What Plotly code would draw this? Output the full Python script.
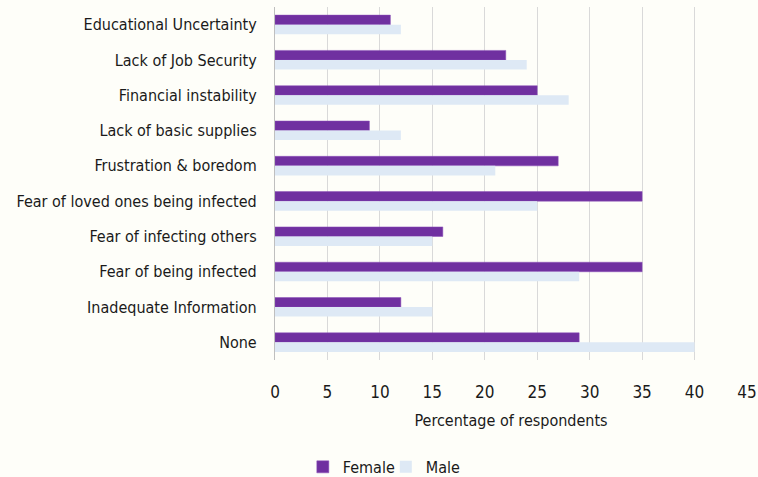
import plotly.graph_objects as go

categories = ["Educational Uncertainty", "Lack of Job Security", "Financial instability",
              "Lack of basic supplies", "Frustration & boredom", "Fear of loved ones being infected",
              "Fear of infecting others", "Fear of being infected", "Inadequate Information", "None"]
female = [11, 22, 25, 9, 27, 35, 16, 35, 12, 29]
male = [12, 24, 28, 12, 21, 25, 15, 29, 15, 40]
x_ticks = [0, 5, 10, 15, 20, 25, 30, 35, 40, 45]

FONT = "DejaVu Sans Condensed, Liberation Sans Narrow, sans-serif"
BG = "#FEFEF9"

fig = go.Figure()
fig.add_trace(go.Bar(y=categories, x=female, orientation="h", name="Female",
                     marker=dict(color="#7030A0", line=dict(color="#8a4fb8", width=0.5))))
fig.add_trace(go.Bar(y=categories, x=male, orientation="h", name="Male",
                     marker=dict(color="#DEE9F5", line=dict(width=0))))

fig.update_layout(
    width=758, height=477,
    paper_bgcolor=BG, plot_bgcolor=BG,
    margin=dict(l=275, r=11, t=7, b=117, autoexpand=False),
    barmode="group", bargap=0.46, bargroupgap=0,
    font=dict(family=FONT, size=16, color="#1a1a1a"),
    legend=dict(orientation="h", x=0.509, xref="container", xanchor="center",
                y=-0.303, yanchor="middle", entrywidth=38,
                font=dict(size=16), itemwidth=30, traceorder="normal"),
    showlegend=True,
)
fig.update_xaxes(range=[0, 45], tickvals=x_ticks, showgrid=True, gridcolor="#D9D9D9", gridwidth=1.2,
                 zeroline=False, showline=False, ticks="", tickfont=dict(size=17), automargin=False,
                 ticklabelstandoff=20,
                 title=dict(text="Percentage of respondents", font=dict(size=16), standoff=13))
fig.update_yaxes(autorange="reversed", showline=True, linecolor="#BFBFBF", linewidth=1.2,
                 ticks="", ticklabelstandoff=14, tickfont=dict(size=16), automargin=False)

fig.write_html("out.html", config={"displayModeBar": False},
               post_script="document.body.style.margin='0';document.body.style.padding='0';")
